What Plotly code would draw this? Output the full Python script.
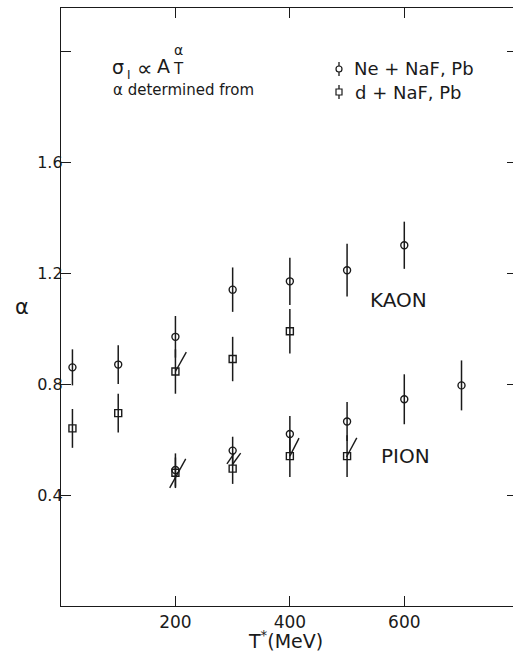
import plotly.graph_objects as go

# ---- data ----
T_kaon_ne = [20, 100, 200, 300, 400, 500, 600]
a_kaon_ne = [0.86, 0.87, 0.97, 1.14, 1.17, 1.21, 1.30]
e_kaon_ne = [0.065, 0.07, 0.075, 0.08, 0.085, 0.095, 0.085]

T_kaon_d = [20, 100, 200, 300, 400]
a_kaon_d = [0.64, 0.695, 0.845, 0.89, 0.99]
e_kaon_d = [0.07, 0.07, 0.08, 0.08, 0.08]

T_pion_ne = [200, 300, 400, 500, 600, 700]
a_pion_ne = [0.49, 0.56, 0.62, 0.665, 0.745, 0.795]
e_pion_ne = [0.06, 0.05, 0.065, 0.07, 0.09, 0.09]

T_pion_d = [200, 300, 400, 500]
a_pion_d = [0.48, 0.495, 0.54, 0.54]
e_pion_d = [0.055, 0.055, 0.075, 0.075]

# diagonal slash marks drawn on some points
slash_T0 = [200, 190, 290, 299, 400, 499]
slash_a0 = [0.845, 0.426, 0.512, 0.508, 0.54, 0.537]
slash_T1 = [219, 218, 303, 314, 416, 517]
slash_a1 = [0.915, 0.53, 0.551, 0.551, 0.605, 0.606]

x_ticks = [200, 400, 600]
y_ticks = [0.4, 0.8, 1.2, 1.6, 2.0]
y_tick_text = ["0.4", "0.8", "1.2", "1.6", ""]

# ---- layout geometry ----
W, H = 513, 657
ML, MR, MT, MB = 61, 0, 8, 51
PW, PH = W - ML - MR, H - MT - MB
INK = "#1a1a1a"
FONT = "DejaVu Sans"


def xp(px):
    return (px - ML) / PW


def yp(py):
    return (H - MB - py) / PH


fig = go.Figure()

err_style = dict(type="data", width=0, thickness=1.5, color=INK)
circ = dict(symbol="circle-open", size=7, color=INK, line=dict(width=1.4, color=INK))
sq = dict(symbol="square-open", size=7, color=INK, line=dict(width=1.4, color=INK))

fig.add_trace(go.Scatter(x=T_kaon_ne + T_pion_ne, y=a_kaon_ne + a_pion_ne, mode="markers",
                         marker=circ, error_y=dict(array=e_kaon_ne + e_pion_ne, **err_style),
                         name="Ne+NaF,Pb", showlegend=False))
fig.add_trace(go.Scatter(x=T_kaon_d + T_pion_d, y=a_kaon_d + a_pion_d, mode="markers",
                         marker=sq, error_y=dict(array=e_kaon_d + e_pion_d, **err_style),
                         name="d+NaF,Pb", showlegend=False))
# invisible trace to activate the right-hand tick axis
fig.add_trace(go.Scatter(x=[0], y=[0], yaxis="y2", mode="markers", marker=dict(opacity=0),
                         showlegend=False, hoverinfo="skip"))

shapes = []
for t0, a0, t1, a1 in zip(slash_T0, slash_a0, slash_T1, slash_a1):
    shapes.append(dict(type="line", xref="x", yref="y", x0=t0, y0=a0, x1=t1, y1=a1,
                       line=dict(color=INK, width=1.4)))

# legend keys (circle / square with small bar)
for py, kind in [(69, "circle"), (92, "rect")]:
    shapes.append(dict(type="line", xref="paper", yref="paper", xsizemode="pixel", ysizemode="pixel",
                       xanchor=xp(339), yanchor=yp(py), x0=0, x1=0, y0=-7, y1=7,
                       line=dict(color=INK, width=1.3)))
    shapes.append(dict(type=kind, xref="paper", yref="paper", xsizemode="pixel", ysizemode="pixel",
                       xanchor=xp(339), yanchor=yp(py), x0=-3, x1=3, y0=-3, y1=3,
                       line=dict(color=INK, width=1.2), fillcolor="white"))

annotations = []


def ann(text, px, py, size, xanchor="center", yanchor="middle"):
    annotations.append(dict(text=text, x=xp(px), y=yp(py), xref="paper", yref="paper",
                            showarrow=False, xanchor=xanchor, yanchor=yanchor,
                            font=dict(family=FONT, size=size, color=INK)))


ann("α", 22, 307, 21)
ann("T<sup>*</sup>(MeV)", 285, 640, 19)
ann("KAON", 398, 300, 20)
ann("PION", 405, 456, 20)
ann("σ", 118, 67, 19)
ann("I", 129, 75, 12)
ann("∝", 145, 68, 22)
ann("A", 163, 66, 19)
ann("α", 178, 50, 14)
ann("T", 178, 69, 15)
ann("α determined from", 111, 90, 15, xanchor="left")
ann("Ne + NaF, Pb", 352, 68, 18, xanchor="left")
ann("d + NaF, Pb", 353, 92, 18, xanchor="left")

fig.update_layout(
    width=W, height=H,
    margin=dict(l=ML, r=MR, t=MT, b=MB),
    paper_bgcolor="white", plot_bgcolor="white",
    font=dict(family=FONT, size=16, color=INK),
    shapes=shapes, annotations=annotations,
    xaxis=dict(range=[0, 790], tickvals=x_ticks, ticks="inside", ticklen=10, tickwidth=1.3,
               tickcolor=INK, showline=True, linecolor=INK, linewidth=1.3, mirror="ticks",
               showgrid=False, zeroline=False, tickfont=dict(family=FONT, size=17, color=INK)),
    yaxis=dict(range=[0, 2.155], tickvals=y_ticks, ticktext=y_tick_text, ticks="inside",
               ticklen=10, tickwidth=1.3, tickcolor=INK, showline=True, linecolor=INK,
               linewidth=1.3, showgrid=False, zeroline=False, ticklabelstandoff=-6,
               tickfont=dict(family=FONT, size=16, color=INK)),
    yaxis2=dict(range=[0, 2.155], overlaying="y", side="right", tickvals=y_ticks,
                ticks="inside", ticklen=6, tickwidth=1.3, tickcolor=INK, showline=False,
                showticklabels=False, showgrid=False, zeroline=False),
)

fig.write_html("out.html")
